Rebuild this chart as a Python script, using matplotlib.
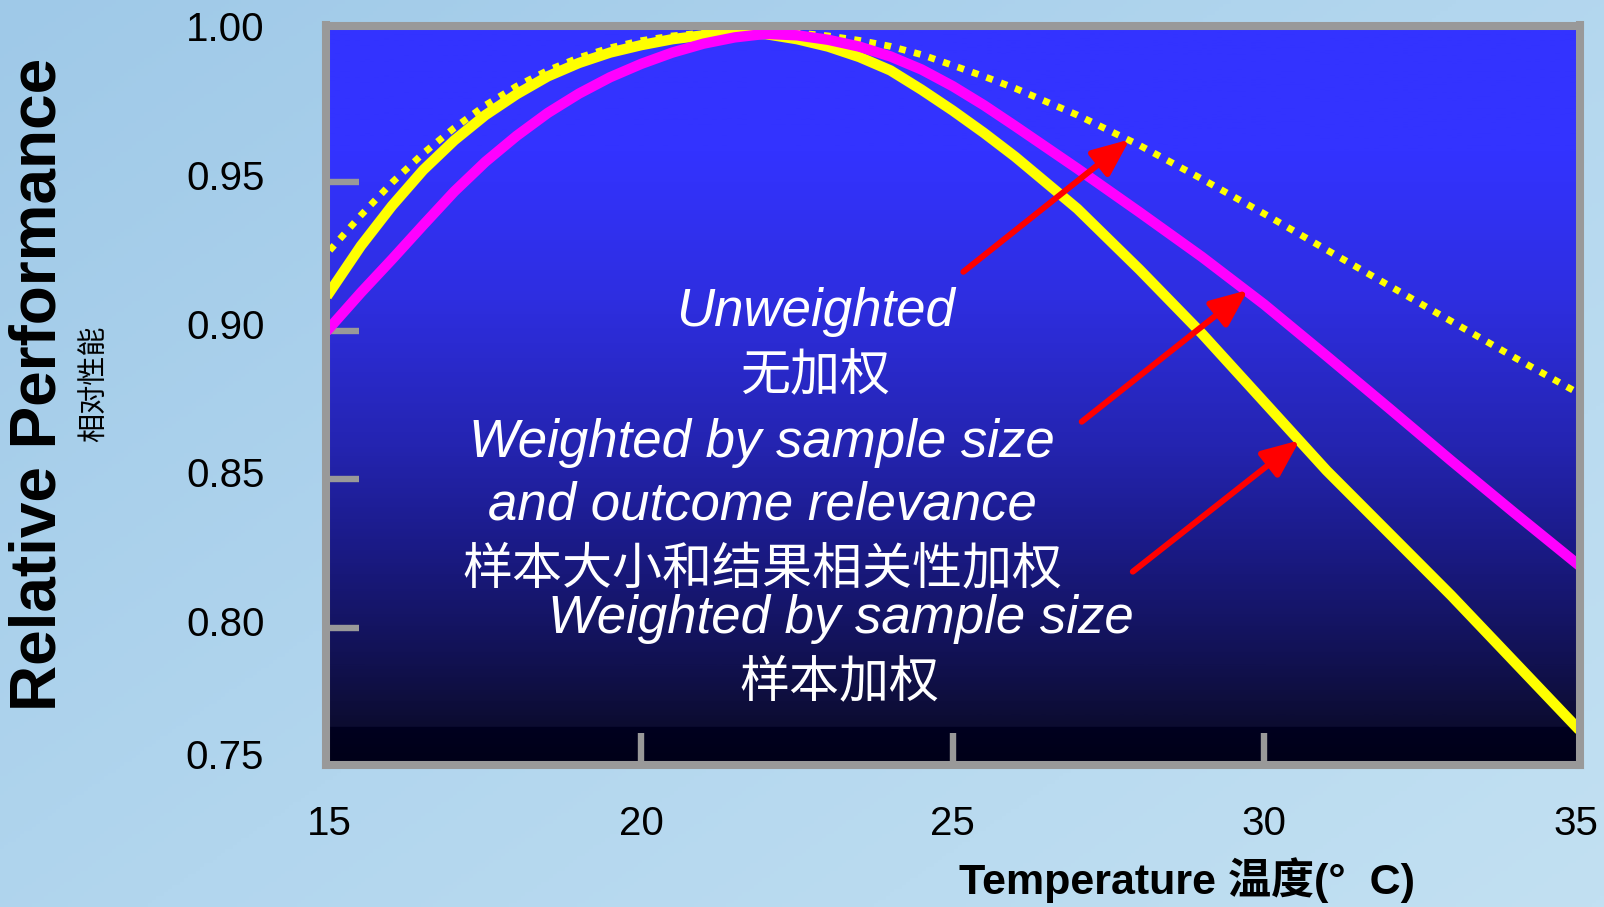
import matplotlib
matplotlib.use('Agg')
import matplotlib.pyplot as plt
import numpy as np
from matplotlib.colors import LinearSegmentedColormap
from matplotlib.transforms import ScaledTranslation

plt.rcParams['font.family'] = ['Liberation Sans', 'Noto Sans CJK SC', 'DejaVu Sans']

# values
temps = [15, 15.5, 16, 16.5, 17, 17.5, 18, 18.5, 19, 19.5, 20, 20.5, 21, 21.5,
         22, 22.5, 23, 23.5, 24, 24.5, 25, 25.5, 26, 27, 28, 29, 30, 31, 32,
         33, 34, 35]
unweighted = [0.927, 0.9388, 0.9498, 0.9596, 0.9682, 0.9758, 0.9822, 0.9875,
              0.9918, 0.9951, 0.9975, 0.9991, 1.0001, 1.0006, 1.0006, 1.0001,
              0.9991, 0.9976, 0.9956, 0.9928, 0.9892, 0.9855, 0.9815, 0.9725,
              0.9623, 0.9510, 0.9393, 0.9272, 0.9152, 0.9032, 0.8912, 0.8795]
weighted_size = [0.913, 0.9285, 0.942, 0.954, 0.964, 0.9725, 0.9795, 0.9855,
                 0.990, 0.9935, 0.996, 0.998, 0.9993, 1.000, 0.9997, 0.998,
                 0.9955, 0.992, 0.9875, 0.981, 0.974, 0.9665, 0.9585, 0.941,
                 0.9205, 0.899, 0.876, 0.853, 0.832, 0.811, 0.789, 0.767]
weighted_size_rel = [0.901, 0.9128, 0.924, 0.9355, 0.9468, 0.9568, 0.9655,
                     0.9732, 0.9797, 0.9852, 0.9897, 0.9935, 0.9965, 0.9986,
                     0.9998, 0.9993, 0.9978, 0.9955, 0.9922, 0.9878, 0.9822,
                     0.9758, 0.9688, 0.9545, 0.9398, 0.9248, 0.9088, 0.8915,
                     0.8740, 0.8563, 0.8390, 0.8220]

xticks = [15, 20, 25, 30, 35]
xtick_labels = ['15', '20', '25', '30', '35']
yticks = [0.80, 0.85, 0.90, 0.95, 1.00]
ytick_labels = ['0.80', '0.85', '0.90', '0.95', '1.00']

W, H = 1604, 907
fig = plt.figure(figsize=(W / 100, H / 100), dpi=100)

def fx(px):
    return px / W

def fy(py):
    return 1 - py / H

# light blue page background
bg = fig.add_axes([0, 0, 1, 1], zorder=-10)
gx, gy = np.meshgrid(np.linspace(0, 1, 400), np.linspace(0, 1, 250))
page_cmap = LinearSegmentedColormap.from_list('page', ['#9fc9e8', '#b2d6ee', '#c2e0f2'])
bg.imshow(0.55 * gx + 0.45 * gy, cmap=page_cmap, aspect='auto',
          extent=[0, 1, 0, 1], origin='upper')
bg.axis('off')

# plot area
ax = fig.add_axes([fx(326), 1 - 765 / H, (1579.5 - 326) / W, (765 - 25.5) / H])
xlim = (14.94, 35.06)
ylim = (0.754, 1.0026)
ax.set_xlim(*xlim)
ax.set_ylim(*ylim)

plot_cmap = LinearSegmentedColormap.from_list('plot', [
    (0.0, '#3333ff'), (0.17, '#3333ff'), (0.37, '#2e2ee0'), (0.57, '#2424b0'),
    (0.71, '#1a1a85'), (0.85, '#121255'), (0.950, '#0c0c30'),
    (0.953, '#00001f'), (1.0, '#000018')])
ax.imshow(np.linspace(0, 1, 600).reshape(-1, 1), cmap=plot_cmap, aspect='auto',
          extent=[xlim[0], xlim[1], ylim[0], ylim[1]], origin='upper', zorder=0)

ax.plot(temps, unweighted, color='#ffff00', lw=4.9, linestyle=(0, (1, 1.25)),
        dash_capstyle='butt', zorder=3)
ax.plot(temps, weighted_size, color='#ffff00', lw=7.5, zorder=4)
ax.plot(temps, weighted_size_rel, color='#ff00ff', lw=7.5, zorder=5)

for s in ax.spines.values():
    s.set_color('#999999')
    s.set_linewidth(5.8)
    s.set_zorder(10)

# labels on major ticks, grey inward marks on minor ticks
ax.xaxis.remove_overlapping_locs = False
ax.yaxis.remove_overlapping_locs = False
ax.set_xticks(xticks, xtick_labels)
ax.set_yticks(yticks, ytick_labels)
ax.tick_params(which='major', length=0, labelsize=29, colors='black')
ax.tick_params(axis='x', which='major', pad=29)
ax.tick_params(axis='y', which='major', pad=44)
ax.set_xticks([20, 25, 30], minor=True)
ax.set_yticks([0.80, 0.85, 0.90, 0.95], minor=True)
ax.tick_params(which='minor', direction='in', color='#999999', width=4.6)
ax.tick_params(axis='x', which='minor', length=23)
ax.tick_params(axis='y', which='minor', length=24)
lift = ScaledTranslation(0, 7 / 100, fig.dpi_scale_trans)
for lbl in ax.get_yticklabels():
    lbl.set_transform(lbl.get_transform() + lift)
ax.text(-62 / 1253.5, 0.0095, '0.75', transform=ax.transAxes,
        fontsize=29, ha='right', va='center')

# arrows
arrow_kw = dict(arrowstyle='-|>,head_length=0.75,head_width=0.32', color='red',
                lw=4.3, mutation_scale=30, shrinkA=0, shrinkB=0)
ax.annotate('', xy=(27.84, 0.9643), xytext=(25.17, 0.9198), arrowprops=arrow_kw, zorder=6)
ax.annotate('', xy=(29.74, 0.9137), xytext=(27.07, 0.8694), arrowprops=arrow_kw, zorder=6)
ax.annotate('', xy=(30.57, 0.8632), xytext=(27.89, 0.8190), arrowprops=arrow_kw, zorder=6)

# labels inside the plot
en = dict(color='white', fontsize=38, style='italic', ha='center', va='center',
          family=['Liberation Sans'])
cn = dict(color='white', fontsize=36, ha='center', va='center',
          family=['Noto Sans CJK SC'], fontweight='light')
fig.text(fx(815), fy(312), 'Unweighted', **en)
fig.text(fx(815), fy(376), '无加权', **cn)
fig.text(fx(762), fy(443), 'Weighted by sample size', **en)
fig.text(fx(762), fy(506), 'and outcome relevance', **en)
fig.text(fx(762), fy(570), '样本大小和结果相关性加权', **cn)
fig.text(fx(841), fy(619), 'Weighted by sample size', **en)
fig.text(fx(839), fy(682), '样本加权', **cn)

# axis titles
fig.text(fx(39), fy(384), 'Relative Performance', rotation=90, fontsize=46,
         fontweight='bold', ha='center', va='center')
fig.text(fx(95), fy(384), '相对性能', rotation=90, fontsize=21,
         family=['Noto Sans CJK SC'], ha='center', va='center')
fig.text(fx(1187), fy(880), 'Temperature 温度(°  C)', fontsize=31,
         fontweight='bold', ha='center', va='center')

fig.savefig('out.png', dpi=100)
